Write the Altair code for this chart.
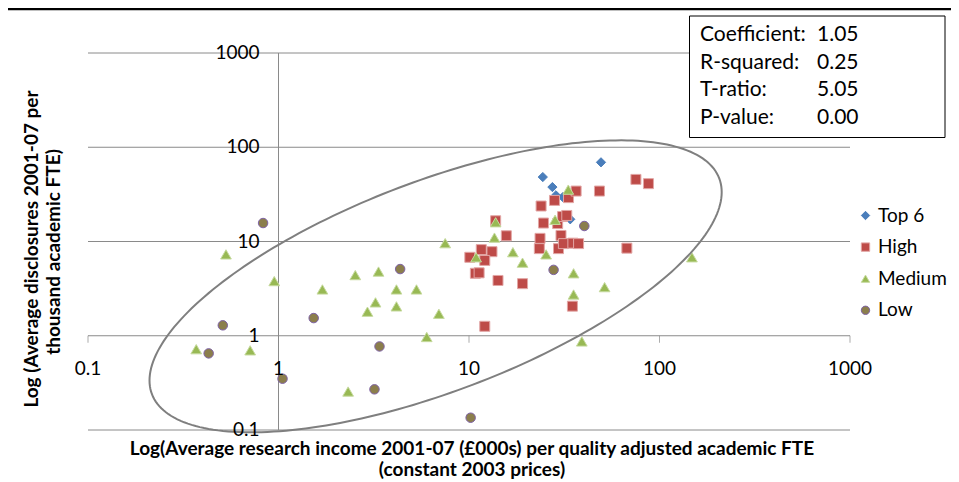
import altair as alt
import numpy as np
import pandas as pd

# ---------------- data ----------------
groups = ["Top 6", "High", "Medium", "Low"]

top6_x = [49.3, 24.4, 27.4, 28.6, 31.1, 34.0]
top6_y = [69.2, 48.3, 37.8, 30.9, 29.6, 17.2]

high_x = [13.8, 15.7, 11.6, 13.2, 10.1, 12.1, 10.8, 11.3, 14.2, 19.1, 12.1, 23.9, 28.1, 24.6,
          29.2, 23.6, 23.4, 29.5, 30.4, 31.3, 35.1, 37.6, 33.3, 36.5, 48.4, 75.2, 87.5, 31.0,
          32.6, 67.4, 34.9]
high_y = [16.6, 11.5, 8.2, 7.8, 6.8, 6.3, 4.6, 4.65, 3.86, 3.57, 1.26, 23.8, 27.3, 15.7,
          15.5, 10.8, 8.4, 8.4, 11.6, 9.5, 9.6, 9.5, 29.2, 34.3, 34.3, 45.6, 41.1, 18.4,
          18.9, 8.5, 2.06]

medium_x = [0.53, 0.95, 0.37, 0.71, 1.70, 2.53, 3.35, 4.16, 5.3, 3.23, 2.93, 4.16, 6.95, 6.0,
            7.5, 2.32, 10.9, 13.6, 13.8, 17.0, 19.1, 25.4, 28.3, 33.2, 35.4, 35.4, 51.5, 39.1, 148]
medium_y = [7.3, 3.8, 0.72, 0.70, 3.1, 4.4, 4.8, 3.1, 3.1, 2.26, 1.80, 2.05, 1.71, 0.97,
            9.6, 0.256, 6.8, 11.0, 16.0, 7.7, 5.96, 7.3, 17.0, 35.5, 4.6, 2.74, 3.28, 0.87, 6.8]

low_x = [0.83, 0.51, 0.43, 1.05, 1.53, 3.39, 4.35, 3.19, 10.2, 40.3, 27.8]
low_y = [15.7, 1.29, 0.65, 0.35, 1.54, 0.77, 5.1, 0.27, 0.135, 14.6, 5.0]

tick_values = [0.1, 1, 10, 100, 1000]
tick_labels = ["0.1", "1", "10", "100", "1000"]

stat_names = ["Coefficient:", "R-squared:", "T-ratio:", "P-value:"]
stat_values = ["1.05", "0.25", "5.05", "0.00"]

x_title = ["Log(Average research income 2001-07 (£000s) per quality  adjusted academic FTE",
           "(constant 2003 prices)"]
y_title = ["Log (Average disclosures 2001-07 per", "thousand academic FTE)"]

# ellipse annotation (centre and shape in log10 units)
ell_centre = (0.8247, 0.5244)
ell_chol = ((1.5018, 0.0), (0.999, 1.1836))

# ---------------- styling ----------------
fills = ["#4A7EBB", "#BE4B48", "#98B954", "#8B7E4C"]
strokes = ["#4A7EBB", "#E2A6A5", "#C6DA9E", "#7E62A6"]
shapes = ["diamond", "square", "triangle-up", "circle"]
sizes = {"Top 6": 85, "High": 100, "Medium": 115, "Low": 90}
GRID = "#8A8A8A"
FONT = "Lato"

W, H = 762, 377

xs = alt.Scale(type="log", domain=[0.1, 1000], nice=False)
ys = alt.Scale(type="log", domain=[0.1, 1000], nice=False)


def X(f="x"):
    return alt.X(f"{f}:Q", scale=xs, axis=None)


def Y(f="y"):
    return alt.Y(f"{f}:Q", scale=ys, axis=None)


rows = []
for g, xv, yv in [("Top 6", top6_x, top6_y), ("High", high_x, high_y),
                  ("Medium", medium_x, medium_y), ("Low", low_x, low_y)]:
    for a, b in zip(xv, yv):
        rows.append({"x": a, "y": b, "group": g, "sz": sizes[g]})
pts = pd.DataFrame(rows)
pts["ord"] = range(len(pts))

one = pd.DataFrame({"a": [0]})

grid_df = pd.DataFrame({"y": tick_values, "x": 0.1, "x2": 1000})
grid = alt.Chart(grid_df).mark_rule(color=GRID, strokeWidth=1).encode(
    x=X(), x2="x2:Q", y=Y())

vaxis_df = pd.DataFrame({"x": [1], "y": [0.1], "y2": [1000]})
vaxis = alt.Chart(vaxis_df).mark_rule(color=GRID, strokeWidth=1).encode(
    x=X(), y=Y(), y2="y2:Q")

xticks_df = pd.DataFrame({"x": tick_values, "y": 1})
xticks = alt.Chart(xticks_df).mark_tick(orient="vertical", size=7, yOffset=3.5,
                                        thickness=1, color=GRID).encode(x=X(), y=Y())

legend = alt.Legend(title=None, orient="none", legendX=768, legendY=153,
                    labelFont=FONT, labelFontSize=19, labelColor="black",
                    symbolSize=70, rowPadding=11.6, labelOffset=3, symbolStrokeWidth=1,
                    padding=0)

points = alt.Chart(pts).mark_point(filled=True, opacity=1, strokeWidth=1).encode(
    x=X(), y=Y(),
    shape=alt.Shape("group:N", scale=alt.Scale(domain=groups, range=shapes), legend=legend),
    fill=alt.Fill("group:N", scale=alt.Scale(domain=groups, range=fills), legend=legend),
    stroke=alt.Stroke("group:N", scale=alt.Scale(domain=groups, range=strokes), legend=legend),
    size=alt.Size("sz:Q", scale=None),
    order=alt.Order("ord:Q"),
)

t = np.linspace(0, 2 * np.pi, 241)
ell_df = pd.DataFrame({
    "x": 10 ** (ell_centre[0] + ell_chol[0][0] * np.cos(t)),
    "y": 10 ** (ell_centre[1] + ell_chol[1][0] * np.cos(t) + ell_chol[1][1] * np.sin(t)),
    "o": np.arange(len(t)),
})
ellipse = alt.Chart(ell_df).mark_line(color="#7F7F7F", strokeWidth=2).encode(
    x=X(), y=Y(), order="o:Q")

lab_df = pd.DataFrame({"v": tick_values, "label": tick_labels, "one": 1})
ylabels = alt.Chart(lab_df).mark_text(align="right", baseline="middle", dx=-19,
                                      font=FONT, fontSize=19, color="black").encode(
    x=X("one"), y=Y("v"), text="label:N")
xlabels = alt.Chart(lab_df).mark_text(align="center", baseline="middle", dy=33,
                                      font=FONT, fontSize=19, color="black").encode(
    x=X("v"), y=Y("one"), text="label:N")

TF = 19
xt1 = alt.Chart(one).mark_text(align="center", baseline="middle", font=FONT, fontSize=TF,
                               fontWeight="bold", color="black").encode(
    x=alt.value(384), y=alt.value(396), text=alt.value(x_title[0]))
xt2 = alt.Chart(one).mark_text(align="center", baseline="middle", font=FONT, fontSize=TF,
                               fontWeight="bold", color="black").encode(
    x=alt.value(384), y=alt.value(417), text=alt.value(x_title[1]))
yt1 = alt.Chart(one).mark_text(align="center", baseline="middle", font=FONT, fontSize=TF,
                               fontWeight="bold", color="black", angle=270).encode(
    x=alt.value(-56), y=alt.value(196), text=alt.value(y_title[0]))
yt2 = alt.Chart(one).mark_text(align="center", baseline="middle", font=FONT, fontSize=TF,
                               fontWeight="bold", color="black", angle=270).encode(
    x=alt.value(-34.5), y=alt.value(199), text=alt.value(y_title[1]))

box = alt.Chart(one).mark_rect(fill="white", stroke="black", strokeWidth=1).encode(
    x=alt.value(601.5), x2=alt.value(857), y=alt.value(-37), y2=alt.value(84.5))
box_names = alt.Chart(one).mark_text(align="left", baseline="middle", font=FONT, fontSize=21,
                                     color="black", lineHeight=27.7).encode(
    x=alt.value(612), y=alt.value(-18), text=alt.value(stat_names))
box_vals = alt.Chart(one).mark_text(align="left", baseline="middle", font=FONT, fontSize=21,
                                    color="black", lineHeight=27.7).encode(
    x=alt.value(729), y=alt.value(-18), text=alt.value(stat_values))

topline = alt.Chart(one).mark_rule(color="black", strokeWidth=2.5).encode(
    x=alt.value(-80), x2=alt.value(871), y=alt.value(-44))

chart = alt.layer(
    grid, vaxis, xticks, points, ellipse, ylabels, xlabels,
    xt1, xt2, yt1, yt2, box, box_names, box_vals, topline
).properties(
    width=W, height=H,
    padding={"left": 80, "top": 45, "right": 101, "bottom": 52},
    autosize=alt.AutoSizeParams(type="none"),
).configure_view(stroke=None)

chart.save("out.html", embed_options={"renderer": "svg", "actions": False})
